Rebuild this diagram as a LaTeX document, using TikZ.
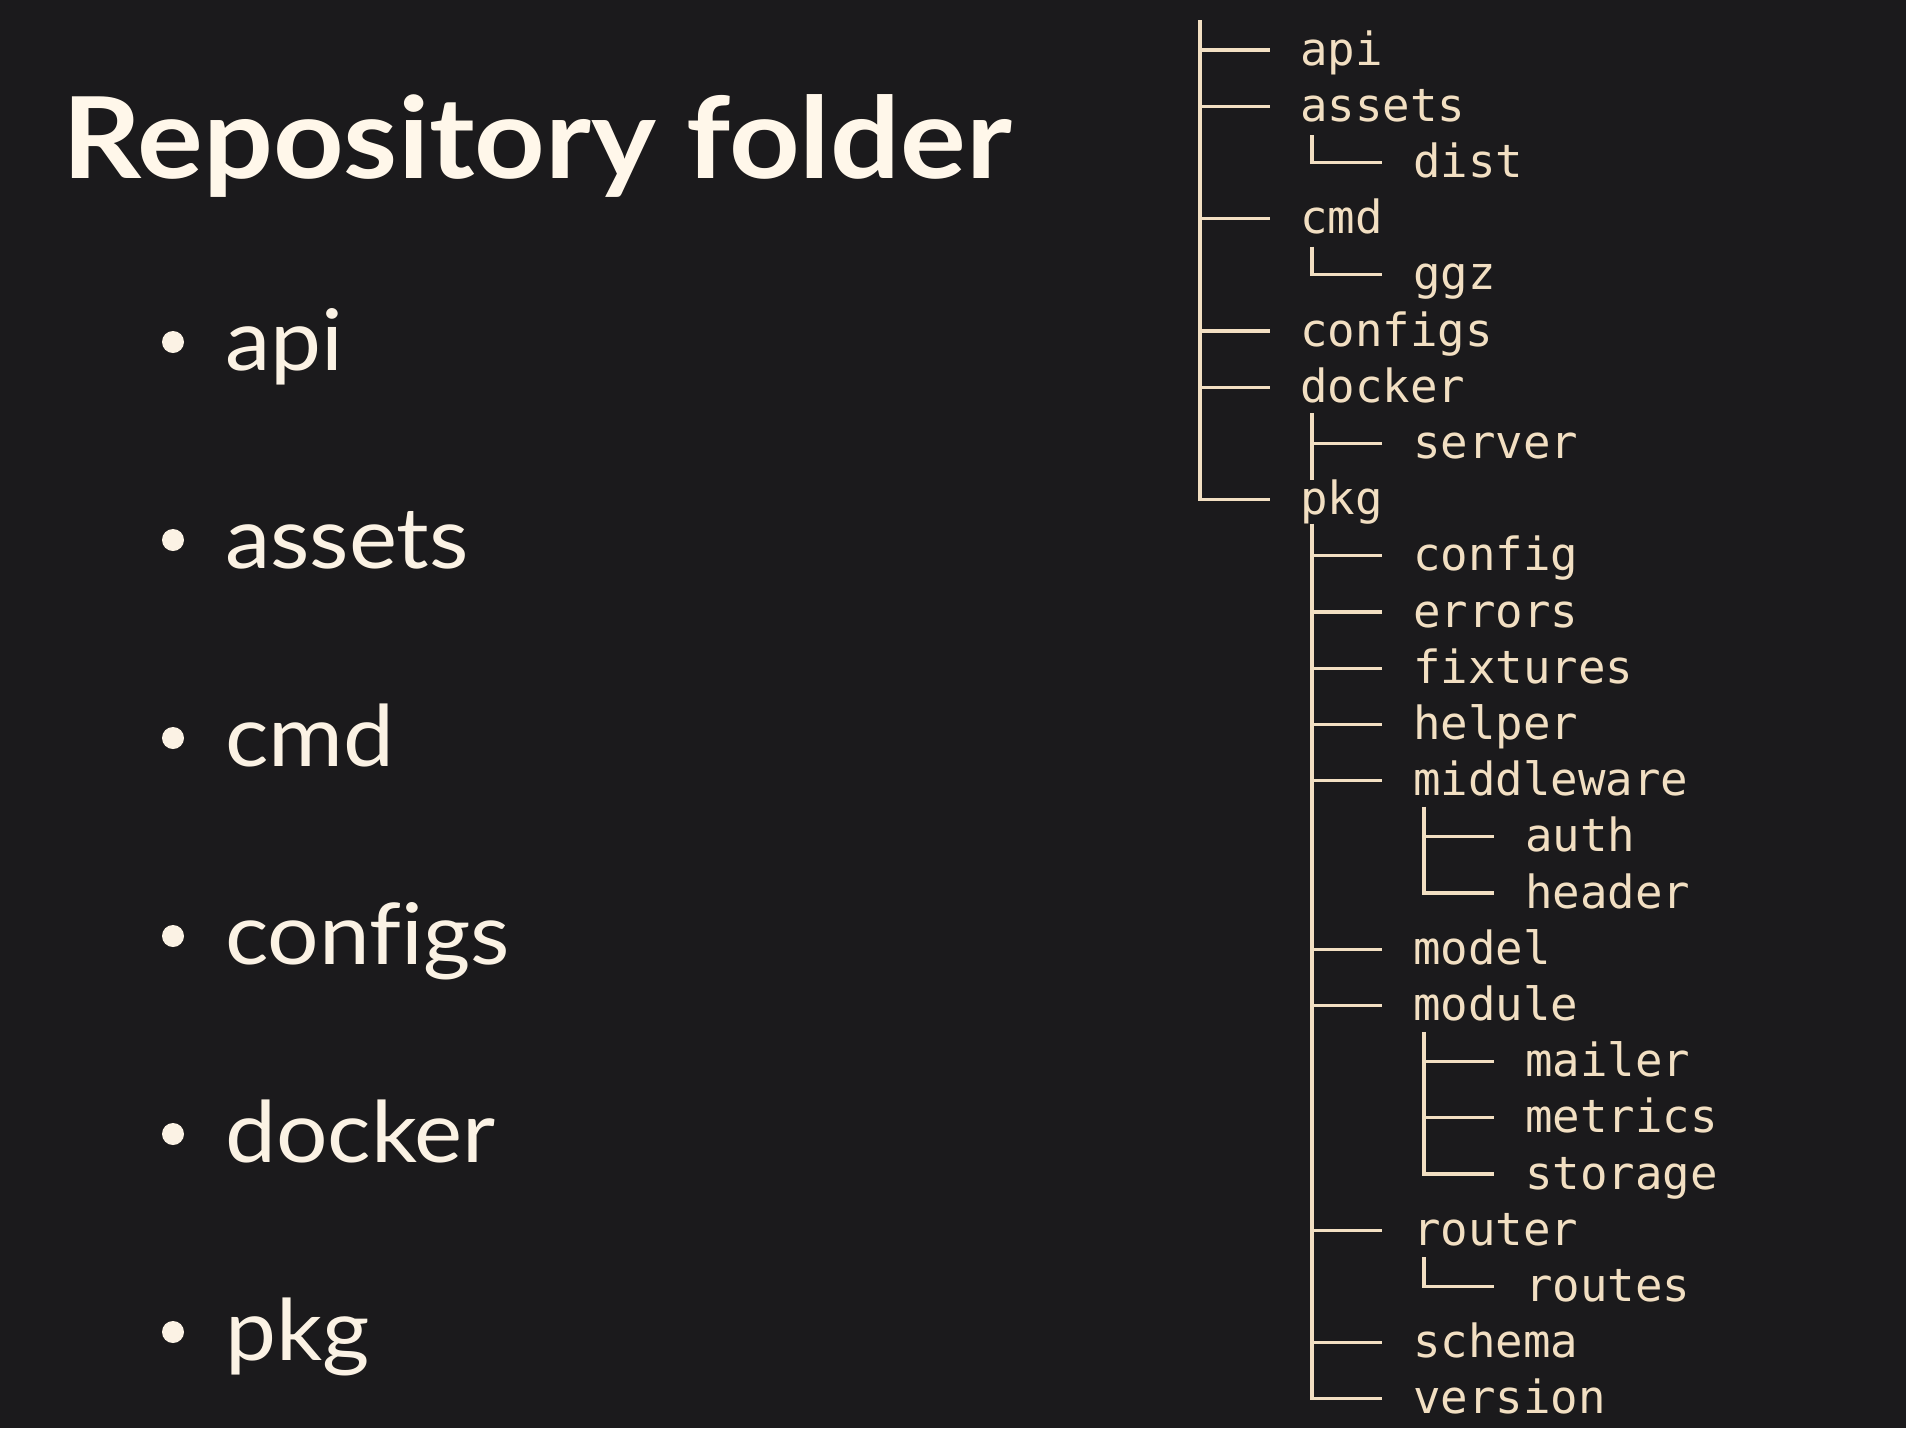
\documentclass[tikz,border=0pt]{standalone}
\usepackage{fontspec}
\setmainfont{Lato}
\newfontfamily\treefont{DejaVu Sans Mono}
\newfontfamily\itemfont{Lato}[FakeStretch=1.07,Ligatures=NoCommon]
\newfontfamily\titlefont{Lato}[FakeStretch=1.09]
\definecolor{bgc}{HTML}{1B1A1C}
\definecolor{titlec}{HTML}{FFF7EA}
\definecolor{itemc}{HTML}{FBF2E4}
\definecolor{treec}{HTML}{F2DFC2}
\tikzset{
  tt/.style={anchor=base west,inner sep=0pt,text=treec,font=\treefont\fontsize{45.7}{50}\selectfont},
  tl/.style={draw=treec,line width=3.3pt,line join=miter},
  itm/.style={anchor=base west,inner sep=0pt,text=itemc,font=\itemfont\fontsize{85}{100}\selectfont},
  ttl/.style={anchor=base west,inner sep=0pt,text=titlec,font=\titlefont\bfseries\fontsize{113}{130}\selectfont},
  dot/.style={circle,fill=itemc,inner sep=0pt,minimum size=22pt}
}
\begin{document}
\begin{tikzpicture}[x=1pt,y=-1pt]
\useasboundingbox (0,0) rectangle (1906,1428);
\fill[bgc] (0,0) rectangle (1906,1428);
% title
\node[ttl] (title) at (62,178) {Repository folder};
% bullet list
\node[itm] (bapi) at (225,370) {api};
\node[itm] (bassets) at (225,568) {assets};
\node[itm] (bcmd) at (225,766) {cmd};
\node[itm] (bconfigs) at (225,964) {configs};
\node[itm] (bdocker) at (225,1162) {docker};
\node[itm] (bpkg) at (225,1360) {pkg};
\node[dot] (d1) at (173,342) {};
\node[dot] (d2) at (173,540) {};
\node[dot] (d3) at (173,738) {};
\node[dot] (d4) at (173,936) {};
\node[dot] (d5) at (173,1134) {};
\node[dot] (d6) at (173,1332) {};
% tree text
\node[tt] (tapi) at (1300,65) {api};
\node[tt] (tassets) at (1300,121.2) {assets};
\node[tt] (tdist) at (1413,177.4) {dist};
\node[tt] (tcmd) at (1300,233.6) {cmd};
\node[tt] (tggz) at (1413,289.8) {ggz};
\node[tt] (tconfigs) at (1300,346) {configs};
\node[tt] (tdocker) at (1300,402.2) {docker};
\node[tt] (tserver) at (1413,458.4) {server};
\node[tt] (tpkg) at (1300,514.6) {pkg};
\node[tt] (tconfig) at (1413,570.8) {config};
\node[tt] (terrors) at (1413,627) {errors};
\node[tt] (tfixtures) at (1413,683.2) {fixtures};
\node[tt] (thelper) at (1413,739.4) {helper};
\node[tt] (tmiddleware) at (1413,795.6) {middleware};
\node[tt] (tauth) at (1525,851.8) {auth};
\node[tt] (theader) at (1525,908) {header};
\node[tt] (tmodel) at (1413,964.2) {model};
\node[tt] (tmodule) at (1413,1020.4) {module};
\node[tt] (tmailer) at (1525,1076.6) {mailer};
\node[tt] (tmetrics) at (1525,1132.8) {metrics};
\node[tt] (tstorage) at (1525,1189) {storage};
\node[tt] (trouter) at (1413,1245.2) {router};
\node[tt] (troutes) at (1525,1301.4) {routes};
\node[tt] (tschema) at (1413,1357.6) {schema};
\node[tt] (tversion) at (1413,1413.8) {version};
% tree lines: root level
\coordinate (root) at (1200,20);
\draw[tl] (root) |- ([xshift=-30pt,yshift=15pt]tpkg.base west);
\foreach \n in {tapi,tassets,tcmd,tconfigs,tdocker}
  \draw[tl] ([xshift=-100pt,yshift=15pt]\n.base west) -- ++(70,0);
% assets
\draw[tl] ([xshift=12pt,yshift=-14pt]tassets.base west) |- ([xshift=-31pt,yshift=15pt]tdist.base west);
% cmd
\draw[tl] ([xshift=12pt,yshift=-13pt]tcmd.base west) |- ([xshift=-31pt,yshift=15pt]tggz.base west);
% docker
\draw[tl] ([xshift=12pt,yshift=-11pt]tdocker.base west) -- ([xshift=-101pt,yshift=-22pt]tserver.base west);
\draw[tl] ([xshift=-101pt,yshift=15pt]tserver.base west) -- ++(70,0);
% pkg
\draw[tl] ([xshift=12pt,yshift=-9pt]tpkg.base west) |- ([xshift=-31pt,yshift=15pt]tversion.base west);
\foreach \n in {tconfig,terrors,tfixtures,thelper,tmiddleware,tmodel,tmodule,trouter,tschema}
  \draw[tl] ([xshift=-101pt,yshift=15pt]\n.base west) -- ++(70,0);
% middleware
\draw[tl] ([xshift=11pt,yshift=-11pt]tmiddleware.base west) |- ([xshift=-31pt,yshift=15pt]theader.base west);
\draw[tl] ([xshift=-101pt,yshift=15pt]tauth.base west) -- ++(70,0);
% module
\draw[tl] ([xshift=11pt,yshift=-12pt]tmodule.base west) |- ([xshift=-31pt,yshift=15pt]tstorage.base west);
\foreach \n in {tmailer,tmetrics}
  \draw[tl] ([xshift=-101pt,yshift=15pt]\n.base west) -- ++(70,0);
% router
\draw[tl] ([xshift=11pt,yshift=-12pt]trouter.base west) |- ([xshift=-31pt,yshift=15pt]troutes.base west);
\end{tikzpicture}
\end{document}
